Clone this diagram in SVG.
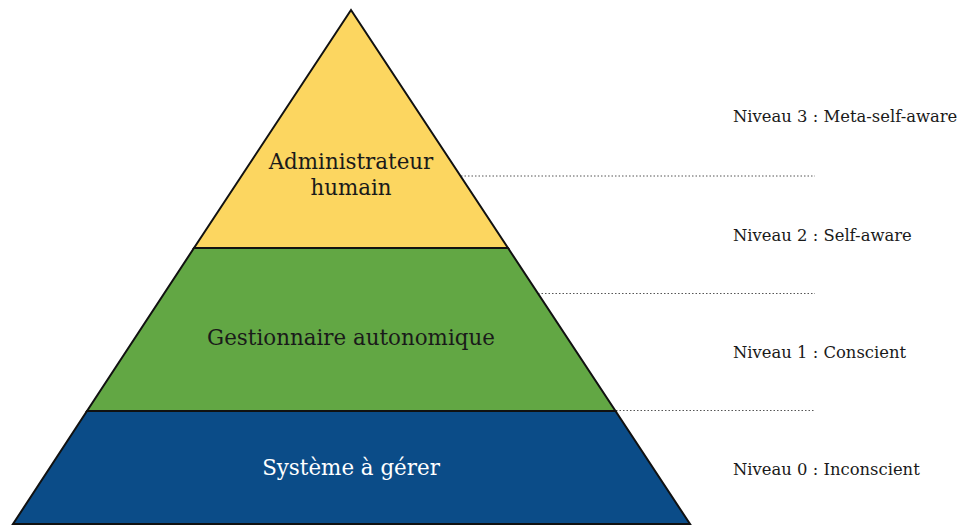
<svg xmlns="http://www.w3.org/2000/svg" width="964" height="525" viewBox="0 0 964 525">
<style>
.band{stroke:#111;stroke-width:2;stroke-linejoin:miter}
.lbl{font-family:"DejaVu Serif","Liberation Serif",serif;font-size:21.4px;text-anchor:middle;fill:#1a1a1a}
.lvl{font-family:"DejaVu Serif","Liberation Serif",serif;font-size:16.4px;fill:#1a1a1a}
.dot{stroke:#555;stroke-width:1;stroke-dasharray:1.5 2;fill:none}
</style>
<rect width="964" height="525" fill="#fff"/>
<g id="connectors">
<line class="dot" x1="461" y1="176" x2="815" y2="176"/>
<line class="dot" x1="538" y1="293.5" x2="815" y2="293.5"/>
<line class="dot" x1="616" y1="410.5" x2="815" y2="410.5"/>
</g>
<g id="level3">
<polygon class="band" fill="#FCD660" points="351,10 508,248 194,248"/>
<text class="lbl" x="351" y="169">Administrateur</text>
<text class="lbl" x="351" y="195">humain</text>
</g>
<g id="level2">
<polygon class="band" fill="#62A744" points="194,248 508,248 615.5,411 87,411"/>
<text class="lbl" x="351" y="345">Gestionnaire autonomique</text>
</g>
<g id="level1">
<polygon class="band" fill="#0B4C88" points="87,411 615.5,411 690,524 13,524"/>
<text class="lbl" x="351" y="475" style="fill:#fff">Système à gérer</text>
</g>
<g id="labels">
<text class="lvl" x="733" y="122">Niveau 3 : Meta-self-aware</text>
<text class="lvl" x="733" y="241">Niveau 2 : Self-aware</text>
<text class="lvl" x="733" y="358">Niveau 1 : Conscient</text>
<text class="lvl" x="733" y="475">Niveau 0 : Inconscient</text>
</g>
</svg>
